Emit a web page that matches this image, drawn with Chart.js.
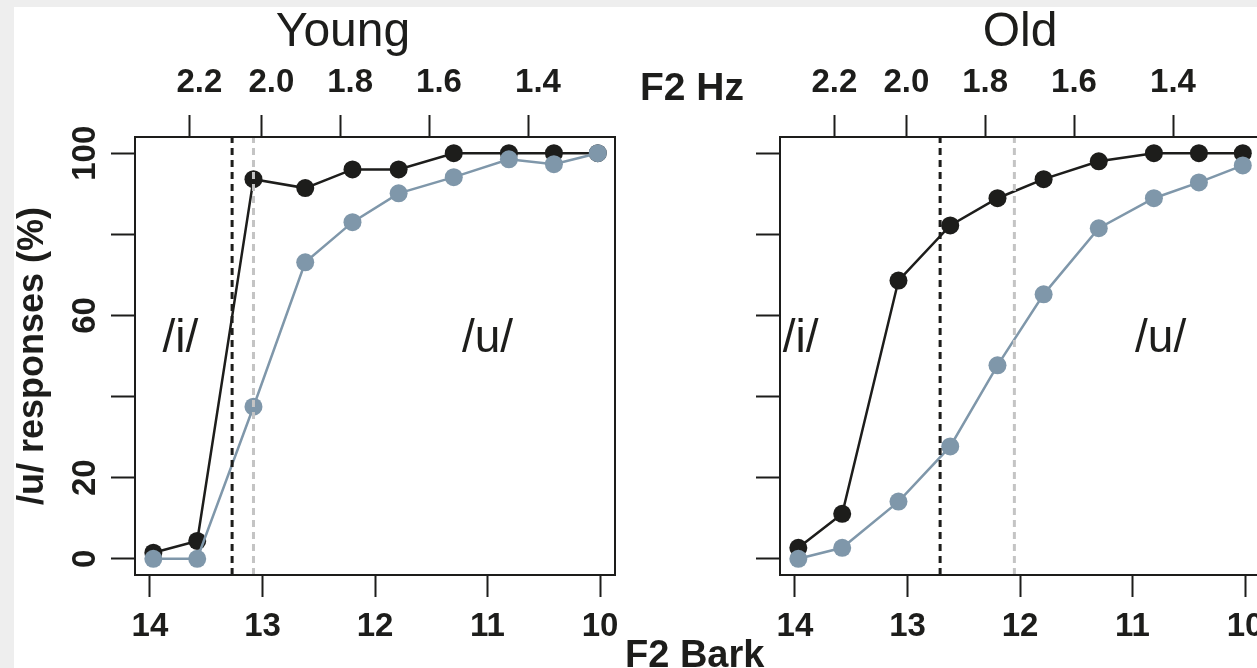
<!DOCTYPE html>
<html>
<head>
<meta charset="utf-8">
<script src="https://cdn.jsdelivr.net/npm/chart.js@4.4.0/dist/chart.umd.min.js"></script>
<style>
  html, body { margin: 0; padding: 0; width: 1257px; height: 668px; overflow: hidden; background: #eeeeee; }
  #sheet { position: absolute; left: 14px; top: 7px; right: 0; bottom: 0; background: #fff; }
  canvas { position: absolute; top: 0; }
  #youngChart { left: 0; }
  #oldChart { left: 640px; }
  .txt { position: absolute; font-family: "Liberation Sans", Arial, sans-serif; color: #1d1d1b; white-space: nowrap; }
  .title { font-size: 48px; line-height: 48px; top: 6px; width: 240px; text-align: center; }
  .axisName { font-weight: bold; }
</style>
</head>
<body>
<div id="sheet"></div>
<canvas id="youngChart" width="640" height="668"></canvas>
<canvas id="oldChart" width="640" height="668"></canvas>
<div class="txt title" style="left:223px">Young</div>
<div class="txt title" style="left:900px">Old</div>
<div class="txt axisName" style="left:640px; top:67px; font-size:39px; line-height:39px">F2 Hz</div>
<div class="txt axisName" style="left:625px; top:635px; font-size:38px; line-height:38px">F2 Bark</div>

<script>
// stimulus continuum (F2 in Bark)
const stimBark = [13.97, 13.58, 13.08, 12.62, 12.2, 11.79, 11.3, 10.81, 10.41, 10.02];

// % /u/ responses
const youngDark = [1.5, 4.4, 93.6, 91.4, 96, 96, 100, 100, 100, 100];
const youngLight = [0, 0, 37.5, 73.1, 83, 90.1, 94.1, 98.5, 97.3, 100];
const oldDark = [2.7, 11.1, 68.6, 82.2, 88.9, 93.6, 98, 100, 100, 100];
const oldLight = [0, 2.7, 14.1, 27.7, 47.7, 65.2, 81.5, 88.9, 92.8, 97];

// category boundaries: dark, light
const youngBoundary = [13.27, 13.08];
const oldBoundary = [12.71, 12.05];

// axes
const barkTicks = [14, 13, 12, 11, 10];
const hzTickLabels = ["2.2", "2.0", "1.8", "1.6", "1.4"];
const hzTickBark = [13.65, 13.01, 12.31, 11.52, 10.64];
const pctTicks = [0, 20, 40, 60, 80, 100];
const pctLabels = ["0", "20", "", "60", "", "100"];

// in-plot labels
const vowelLabels = ["/i/", "/u/"];
const youngVowelBark = [13.73, 11.0];
const oldVowelBark = [13.95, 10.75];
const vowelPct = 54;

const FONT = "'Liberation Sans', Arial, sans-serif";
const INK = "#1d1d1b";
const BLUE = "#7f97aa";
const LIGHT_DASH = "#c4c4c4";
const tickFont = { family: FONT, size: 33, weight: "bold", lineHeight: 1 };

// box round the plot area
const frame = {
  id: "frame",
  afterDatasetsDraw(chart) {
    const a = chart.chartArea, c = chart.ctx;
    c.save();
    c.strokeStyle = INK;
    c.lineWidth = 2;
    c.strokeRect(a.left, a.top, a.right - a.left, a.bottom - a.top);
    c.restore();
  }
};

function vowelText(xs) {
  return {
    id: "vowels",
    afterDatasetsDraw(chart) {
      const c = chart.ctx, sx = chart.scales.x, sy = chart.scales.y;
      c.save();
      c.font = "46px " + FONT;
      c.fillStyle = INK;
      c.textAlign = "center";
      c.textBaseline = "middle";
      vowelLabels.forEach((t, i) => {
        c.fillText(t, sx.getPixelForValue(xs[i]), sy.getPixelForValue(vowelPct));
      });
      c.restore();
    }
  };
}

function makeChart(id, dark, light, boundary, vowelX, showPct, leftWidth, padRight, hzOffset) {
  const pts = vals => stimBark.map((b, i) => ({ x: b, y: vals[i] }));
  const vline = v => [{ x: v, y: -4 }, { x: v, y: 104 }];
  const series = (vals, color, order) => ({
    data: pts(vals), xAxisID: "x", yAxisID: "y", order,
    borderColor: color, backgroundColor: color, borderWidth: 2.5,
    pointRadius: 9, pointBackgroundColor: color, pointBorderWidth: 0, tension: 0
  });
  const dash = (v, color) => ({
    data: vline(v), xAxisID: "x", yAxisID: "y", order: 0,
    borderColor: color, borderWidth: 3, borderDash: [7, 5], pointRadius: 0
  });
  const xCommon = {
    type: "linear", reverse: true, min: 9.867, max: 14.133,
    grid: { drawOnChartArea: false, tickLength: 22, tickWidth: 2, tickColor: INK },
    border: { display: false }
  };

  return new Chart(document.getElementById(id), {
    type: "line",
    data: {
      datasets: [
        dash(boundary[0], INK),
        dash(boundary[1], LIGHT_DASH),
        series(light, BLUE, 1),
        series(dark, INK, 2)
      ]
    },
    options: {
      responsive: false,
      animation: false,
      events: [],
      layout: { padding: { left: 0, right: padRight, top: 0, bottom: 0 } },
      plugins: { legend: { display: false }, tooltip: { enabled: false } },
      scales: {
        x: {
          ...xCommon, position: "bottom",
          afterBuildTicks: s => { s.ticks = barkTicks.map(v => ({ value: v })); },
          afterFit: s => { s.height = 93; s.paddingLeft = 0; s.paddingRight = 0; },
          ticks: { color: INK, font: tickFont, padding: 13, maxRotation: 0, autoSkip: false,
                   callback: v => String(v) }
        },
        xTop: {
          ...xCommon, position: "top",
          afterBuildTicks: s => { s.ticks = hzTickBark.map(v => ({ value: v })); },
          afterFit: s => { s.height = 137; s.paddingLeft = 0; s.paddingRight = 0; },
          ticks: { color: INK, font: tickFont, padding: 16, maxRotation: 0, autoSkip: false,
                   labelOffset: hzOffset, callback: (v, i) => hzTickLabels[i] }
        },
        y: {
          type: "linear", position: "left", min: -4, max: 104,
          afterBuildTicks: s => { s.ticks = pctTicks.map(v => ({ value: v })); },
          afterFit: s => { s.width = leftWidth; s.paddingTop = 0; s.paddingBottom = 0; },
          grid: { drawOnChartArea: false, tickLength: 24, tickWidth: 2, tickColor: INK },
          border: { display: false },
          ticks: { color: INK, font: tickFont, minRotation: 90, maxRotation: 90, crossAlign: "center",
                   padding: -2, autoSkip: false,
                   callback: (v, i) => showPct ? pctLabels[i] : "" },
          title: {
            display: showPct, text: "/u/ responses (%)", color: INK,
            font: { family: FONT, size: 36, weight: "bold", lineHeight: 1 },
            padding: { top: 15, bottom: 0 }
          }
        }
      }
    },
    plugins: [frame, vowelText(vowelX)]
  });
}

makeChart("youngChart", youngDark, youngLight, youngBoundary, youngVowelBark, true, 135, 25, 10);
makeChart("oldChart", oldDark, oldLight, oldBoundary, oldVowelBark, false, 140, 20, 0);
</script>
</body>
</html>
